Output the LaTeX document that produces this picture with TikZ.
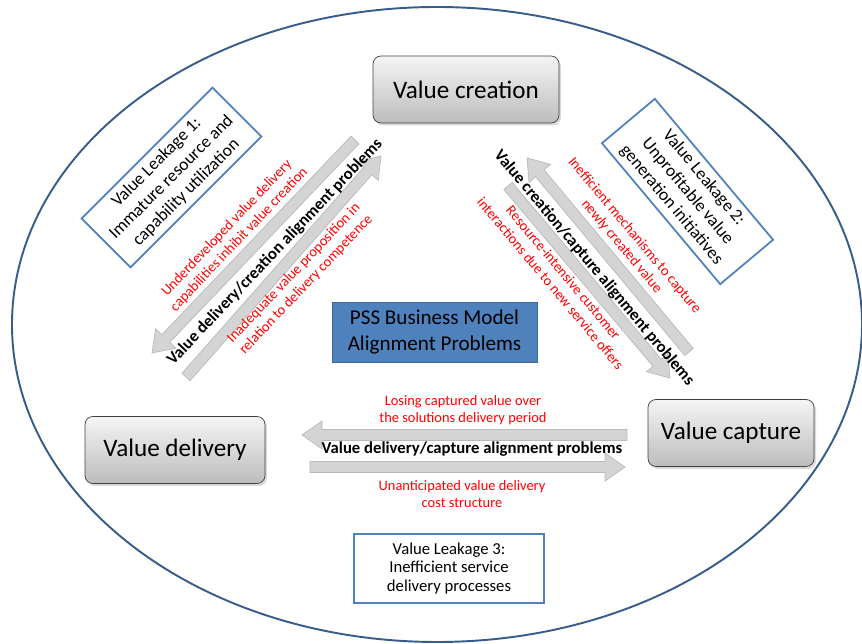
\documentclass[tikz,border=0pt]{standalone}
\usepackage{fontspec}
\setmainfont{Carlito}
\usetikzlibrary{calc,shadows}
\definecolor{leakblue}{RGB}{79,129,189}
\definecolor{rimblue}{RGB}{56,93,138}
\tikzset{
  stage/.style={
    draw=black!75,
    rounded corners=0.16cm,
    top color=black!4,
    bottom color=black!26,
    drop shadow={opacity=0.3,shadow xshift=0.04cm,shadow yshift=-0.05cm},
    minimum height=1.34cm,
    font=\fontsize{14.3}{16}\selectfont
  },
  leakage/.style={
    draw=leakblue,
    line width=1pt,
    fill=white,
    align=center,
    minimum width=3.7cm,
    minimum height=1.38cm,
    inner sep=0.05cm,
    font=\fontsize{9.5}{10.5}\selectfont
  },
  core/.style={
    fill=leakblue,
    draw=leakblue!80!black,
    align=center,
    minimum width=4.1cm,
    minimum height=1.2cm,
    font=\fontsize{12}{14.5}\selectfont
  },
  fatarrow/.style={
    fill=black!17,
    draw=black!27,
    line width=0.4pt
  },
  issue/.style={
    font=\fontsize{9.5}{10}\selectfont\bfseries,
    inner sep=0pt
  },
  cause/.style={
    text=red,
    align=center,
    inner sep=0pt,
    font=\fontsize{8.2}{9.6}\selectfont
  }
}
% block arrow from #1 to #2: shaft 0.22cm, head 0.56cm wide and 0.4cm long
\newcommand{\blockarrow}[2]{%
  \filldraw[fatarrow] let \p1=(#1), \p2=(#2),
    \n1={atan2(\y2-\y1,\x2-\x1)},
    \n2={veclen(\x2-\x1,\y2-\y1)-0.4cm} in
    ($(\p1)+(\n1+90:0.11)$) -- ++(\n1:\n2) -- ++(\n1+90:0.17)
    -- (\p2) -- ($(\p1)+(\n1:\n2)+(\n1-90:0.28)$) -- ++(\n1+90:0.17)
    -- ($(\p1)+(\n1-90:0.11)$) -- cycle;}

\begin{document}
\begin{tikzpicture}
  \useasboundingbox (0,0) rectangle (17.24,12.88);
  \draw[rimblue,line width=1.1pt] (8.74,6.39) ellipse [x radius=8.5cm,y radius=6.35cm];

  % the three stages
  \node[stage,minimum width=3.72cm] (vcreate) at (9.32,11.09) {Value creation};
  \node[stage,minimum width=3.6cm] (vdeliver) at (3.5,3.88) {Value delivery};
  \node[stage,minimum width=3.32cm] (vcapture) at (14.62,4.22) {Value capture};
  \node[core] (pss) at (8.69,6.24) {PSS Business Model\\Alignment Problems};

  % value leakages
  \node[leakage,rotate=45,font=\fontsize{10}{12}\selectfont] (leak1) at (3.43,9.33)
    {Value Leakage 1:\\Immature resource and\\capability utilization};
  \node[leakage,rotate=-50,minimum width=3.68cm,font=\fontsize{10}{12}\selectfont] (leak2) at (13.75,9.05)
    {Value Leakage 2:\\Unprofitable value\\generation initiatives};
  \node[leakage,minimum width=3.8cm] (leak3) at (8.98,1.51)
    {Value Leakage 3:\\Inefficient service\\delivery processes};

  % arrow ends
  \coordinate (dcS) at (7.10,10.08);
  \coordinate (dcE) at (3.04,5.82);
  \coordinate (cdS) at (3.72,5.34);
  \coordinate (cdE) at (7.62,9.76);
  \coordinate (ccS) at (13.78,5.84);
  \coordinate (ccE) at (10.54,9.72);
  \coordinate (cpS) at (10.16,9.16);
  \coordinate (cpE) at (13.40,5.32);
  \coordinate (dpS) at (12.54,4.18);
  \coordinate (dpE) at (6.04,4.18);
  \coordinate (pdS) at (6.20,3.54);
  \coordinate (pdE) at (12.50,3.54);

  \blockarrow{dcS}{dcE}
  \blockarrow{cdS}{cdE}
  \blockarrow{ccS}{ccE}
  \blockarrow{cpS}{cpE}
  \blockarrow{dpS}{dpE}
  \blockarrow{pdS}{pdE}

  % alignment problems
  \node[issue,rotate=46.5] (dcIssue) at (5.50,7.84) {Value delivery/creation alignment problems};
  \node[issue,rotate=-50] (ccIssue) at (11.88,7.52) {Value creation/capture alignment problems};
  \node[issue] (dpIssue) at (9.44,3.90) {Value delivery/capture alignment problems};

  \node[cause,rotate=46.5] (dcUp) at (4.66,8.20)
    {Underdeveloped value delivery\\capabilities inhibit value creation};
  \node[cause,rotate=46.5] (dcDown) at (6.00,7.30)
    {Inadequate value proposition in\\relation to delivery competence};
  \node[cause,rotate=-50] (ccUp) at (12.56,8.06)
    {Inefficient mechanisms to capture\\newly created value};
  \node[cause,rotate=-50] (ccDown) at (11.14,7.32)
    {Resource-intensive customer\\interactions due to new service offers};
  \node[cause] (dpUp) at (9.26,4.68)
    {Losing captured value over\\the solutions delivery period};
  \node[cause] (dpDown) at (9.24,3.00)
    {Unanticipated value delivery\\cost structure};
\end{tikzpicture}
\end{document}
